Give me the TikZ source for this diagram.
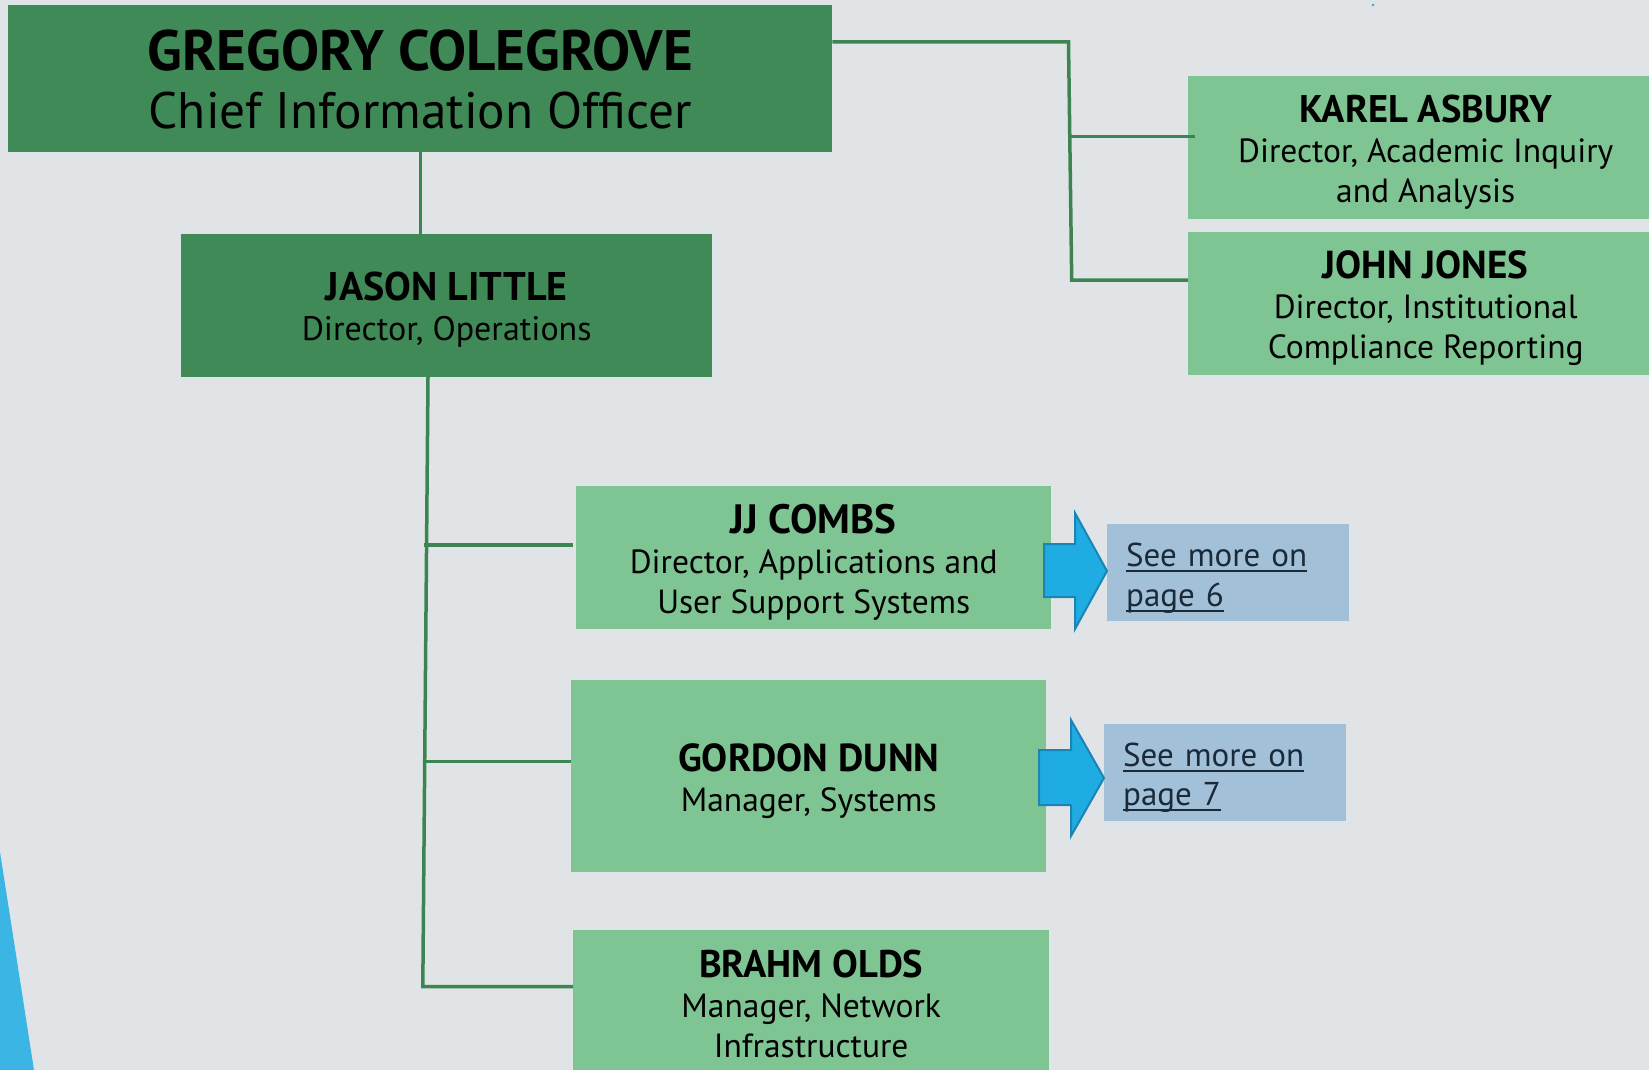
\documentclass[tikz,border=0pt]{standalone}
\usepackage{fontspec}
\setmainfont{PT Sans}
\definecolor{bg}{HTML}{E0E4E7}
\definecolor{dkgreen}{HTML}{3F8A57}
\definecolor{ltgreen}{HTML}{7FC493}
\definecolor{lnk}{HTML}{3C8552}
\definecolor{linkblue}{HTML}{A2C1D8}
\definecolor{linktext}{HTML}{1B2A38}
\definecolor{arrowblue}{HTML}{1EACE3}
\definecolor{arrowedge}{HTML}{1A85B5}
\definecolor{cornerblue}{HTML}{3BB5E3}
\tikzset{
  box/.style={inner sep=0pt, align=center, text=black, anchor=north west,
              font=\fontsize{33.5}{40}\selectfont},
  dark/.style={box, fill=dkgreen},
  light/.style={box, fill=ltgreen},
  linkbox/.style={fill=linkblue, anchor=north west, inner xsep=19pt, inner ysep=0pt,
                  align=left, text=linktext, font=\fontsize{33}{39.5}\selectfont},
  conn/.style={draw=lnk, line width=3.5pt},
  pointer/.style={fill=arrowblue, draw=arrowedge, line width=2pt, line join=miter},
}
% bold name line; the strut lowers the text block a little inside its box
\newcommand{\nm}[2][39]{{\bfseries\fontsize{#1}{40}\selectfont\rule{0pt}{38pt}#2}}
% underlined link text with a heavier rule
\newcommand{\ulink}[1]{\leavevmode\vtop{\hbox{\raisebox{0pt}[\height][0pt]{#1}}\kern3.5pt\hrule height 2pt}}
\begin{document}
\begin{tikzpicture}[x=1pt,y=-1pt]
  % canvas
  \fill[bg] (0,0) rectangle (1649,1070);
  \useasboundingbox (0,0) rectangle (1649,1070);
  \begin{scope}
    \clip (0,0) rectangle (1649,1070);
    % corner wedge and small dot
    \fill[cornerblue] (0,852) -- (34,1070) -- (0,1070) -- cycle;
    \fill[arrowblue] (1373,5) circle (1.3);

    % people
    \node[dark, minimum width=824pt, minimum height=145pt,
          font=\fontsize{51.3}{58}\selectfont] (cio) at (8,7)
      {{\bfseries\fontsize{57}{58}\selectfont GREGORY COLEGROVE}\\Chief Information Officer};
    \fill[dkgreen] (8,5) rectangle (832,8);
    \node[dark, minimum width=531pt, minimum height=143pt] (ops) at (181,233.5)
      {\nm[40]{JASON LITTLE}\\{\fontsize{34}{40}\selectfont Director, Operations}};
    \node[light, minimum width=475pt, minimum height=143pt] (kar) at (1188,75.7)
      {\nm[38.5]{KAREL ASBURY}\\Director, Academic Inquiry\\and Analysis};
    \node[light, minimum width=475pt, minimum height=143pt] (jon) at (1188,231.4)
      {\nm{JOHN JONES}\\Director, Institutional\\Compliance Reporting};
    \node[light, minimum width=475pt, minimum height=143pt] (jjc) at (576,486)
      {\nm[41]{JJ COMBS}\\Director, Applications and\\User Support Systems};
    \node[light, minimum width=475pt, minimum height=192pt] (gor) at (571,680)
      {\nm{GORDON DUNN}\\Manager, Systems};
    \node[light, minimum width=476pt, minimum height=148pt] (bra) at (573,930)
      {{\bfseries\fontsize{38.5}{40}\selectfont BRAHM OLDS}\\Manager, Network\\Infrastructure};

    % page references
    \node[linkbox, text width=204pt, minimum height=97pt] (p6) at (1107,524)
      {\rule{0pt}{33pt}\ulink{See more on}\\\ulink{page 6}};
    \node[linkbox, text width=204pt, minimum height=97pt] (p7) at (1104,723.6)
      {\rule{0pt}{33pt}\ulink{See more on}\\\ulink{page 7}};

    % pointers towards the page references
    \draw[pointer] (1044,544) -- (1075,544) -- (1075,513) -- (p6.west |- 0,571)
      -- (1075,629) -- (1075,597) -- (1044,597) -- cycle;
    \draw[pointer] (1039,750) -- (1071,750) -- (1071,720) -- (p7.west |- 0,778)
      -- (1071,836) -- (1071,805) -- (1039,805) -- cycle;

    % reporting lines
    \coordinate (rt) at (1068.5,42);
    \coordinate (rb) at (1071.7,280);
    \coordinate (rk) at (1070,136.7);
    \draw[conn] (cio.east |- rt) -- (rt) -- (rb) -- (jon.west |- rb);
    \draw[conn] (rk) -- ([xshift=7pt]kar.west |- rk);
    \draw[conn] (cio.south -| 420.7,0) -- (ops.north -| 420.7,0);

    \coordinate (tt) at (428,376.5);
    \coordinate (tb) at (422.8,986.5);
    \coordinate (tj) at (423.8,544.8);
    \coordinate (tg) at (424.2,761.4);
    \draw[conn] (ops.south -| tt) -- (tb) -- (bra.west |- tb);
    \draw[conn] (tj) -- ([xshift=-3pt]jjc.west |- tj);
    \draw[conn] (tg) -- (gor.west |- tg);
  \end{scope}
\end{tikzpicture}
\end{document}
